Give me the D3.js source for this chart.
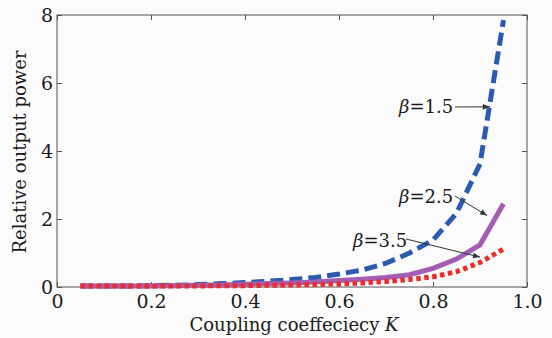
<!DOCTYPE html>
<html>
<head>
<meta charset="utf-8">
<script src="https://cdn.jsdelivr.net/npm/d3@7"></script>
<style>
  body { margin: 0; background: #fbfbfb; }
  text { font-family: "DejaVu Serif", serif; fill: #1a1a1a; }
</style>
</head>
<body>
<div id="chart"></div>
<script>
// Coupling coefficient K
const kValues = [0.05, 0.10, 0.15, 0.20, 0.25, 0.30, 0.35, 0.40, 0.45, 0.50,
                 0.55, 0.60, 0.65, 0.70, 0.75, 0.80, 0.85, 0.90, 0.95];
// Relative output power for each beta
const beta15 = [0.03, 0.03, 0.03, 0.04, 0.05, 0.07, 0.10, 0.13, 0.17, 0.22,
                0.28, 0.38, 0.50, 0.70, 1.00, 1.38, 2.17, 3.62, 7.85];
const beta25 = [0.03, 0.03, 0.03, 0.03, 0.04, 0.05, 0.06, 0.08, 0.10, 0.12,
                0.15, 0.19, 0.23, 0.28, 0.36, 0.55, 0.82, 1.24, 2.45];
const beta35 = [0.03, 0.03, 0.03, 0.03, 0.03, 0.03, 0.04, 0.04, 0.05, 0.06,
                0.07, 0.09, 0.12, 0.16, 0.22, 0.30, 0.45, 0.72, 1.12];
const xTicks = [0, 0.2, 0.4, 0.6, 0.8, 1.0];
const yTicks = [0, 2, 4, 6, 8];
const labels = [
  { text: '=1.5', k: 0.921, v: 5.3 },
  { text: '=2.5', k: 0.915, v: 2.1 },
  { text: '=3.5', k: 0.9, v: 0.88 }
];

const W = 552, H = 338;
const margin = { left: 57, right: 25, top: 15, bottom: 51 };
const width = W - margin.left - margin.right;
const height = H - margin.top - margin.bottom;

const svg = d3.select('#chart').append('svg')
  .attr('width', W).attr('height', H);

svg.append('defs').append('marker')
  .attr('id', 'arrow')
  .attr('viewBox', '0 0 10 10')
  .attr('refX', 10).attr('refY', 5)
  .attr('markerWidth', 9).attr('markerHeight', 7)
  .attr('markerUnits', 'userSpaceOnUse')
  .attr('orient', 'auto')
  .append('path')
  .attr('d', 'M0,1 L10,5 L0,9 Z')
  .attr('fill', '#333');

const g = svg.append('g')
  .attr('transform', `translate(${margin.left},${margin.top})`);

const x = d3.scaleLinear().domain([0, 1]).range([0, width]);
const y = d3.scaleLinear().domain([0, 8]).range([height, 0]);

// Frame
g.append('rect')
  .attr('width', width).attr('height', height)
  .attr('fill', 'none').attr('stroke', '#555').attr('stroke-width', 1);

// Axes, ticks inward
const styleAxis = sel => {
  sel.select('.domain').remove();
  sel.selectAll('.tick line').attr('stroke', '#555');
  sel.selectAll('.tick text').style('font-size', '19px').attr('fill', '#1a1a1a');
};

g.append('g')
  .attr('transform', `translate(0,${height})`)
  .call(d3.axisBottom(x).tickValues(xTicks).tickSize(-5).tickPadding(8)
    .tickFormat(d => d === 0 ? '0' : d3.format('.1f')(d)))
  .call(styleAxis);

g.append('g')
  .call(d3.axisTop(x).tickValues(xTicks).tickSize(-5).tickFormat(''))
  .call(styleAxis);

g.append('g')
  .call(d3.axisLeft(y).tickValues(yTicks).tickSize(-5).tickPadding(4))
  .call(styleAxis);

g.append('g')
  .attr('transform', `translate(${width},0)`)
  .call(d3.axisRight(y).tickValues(yTicks).tickSize(-5).tickFormat(''))
  .call(styleAxis);

// Axis titles
const xTitle = svg.append('text')
  .attr('x', margin.left + width / 2 + 2)
  .attr('y', 331)
  .attr('text-anchor', 'middle')
  .style('font-size', '18px');
xTitle.append('tspan').text('Coupling coeffeciecy ');
xTitle.append('tspan').attr('font-style', 'italic').text('K');

svg.append('text')
  .attr('transform', 'rotate(-90)')
  .attr('x', -152)
  .attr('y', 26)
  .attr('text-anchor', 'middle')
  .style('font-size', '18px')
  .text('Relative output power');

// Lines
const line = d3.line()
  .x(d => x(d[0]))
  .y(d => y(d[1]));

const series = [
  { values: beta15, color: '#2b5bb0', dash: '13,6' },
  { values: beta25, color: '#a45db2', dash: null },
  { values: beta35, color: '#ee2a2a', dash: '4.5,3.5' }
];

series.forEach(s => {
  g.append('path')
    .datum(kValues.map((k, i) => [k, s.values[i]]))
    .attr('d', line)
    .attr('fill', 'none')
    .attr('stroke', s.color)
    .attr('stroke-width', 5)
    .attr('stroke-linejoin', 'miter')
    .attr('stroke-linecap', 'butt')
    .attr('stroke-dasharray', s.dash);
});

// Annotations with arrows
const annot = [
  { lbl: labels[0], tx: 399, ty: 113, ax1: 455, ay1: 107 },
  { lbl: labels[1], tx: 399, ty: 203, ax1: 455, ay1: 196 },
  { lbl: labels[2], tx: 353, ty: 247, ax1: 406, ay1: 239 }
];

annot.forEach(a => {
  const t = svg.append('text')
    .attr('x', a.tx).attr('y', a.ty)
    .style('font-size', '18px');
  t.append('tspan').attr('font-style', 'italic').text('β');
  t.append('tspan').text(a.lbl.text);

  svg.append('line')
    .attr('x1', a.ax1).attr('y1', a.ay1)
    .attr('x2', margin.left + x(a.lbl.k))
    .attr('y2', margin.top + y(a.lbl.v))
    .attr('stroke', '#333')
    .attr('stroke-width', 1)
    .attr('marker-end', 'url(#arrow)');
});
</script>
</body>
</html>
